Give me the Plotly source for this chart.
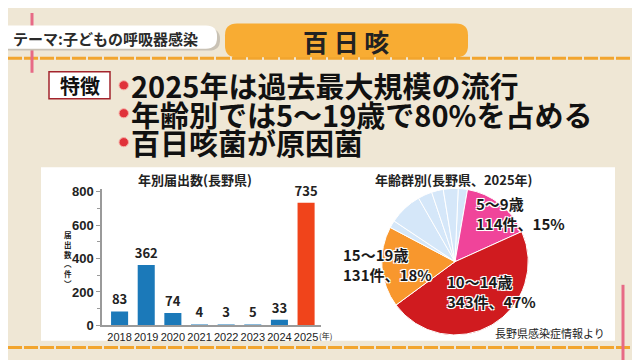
import plotly.graph_objects as go

# ---------------- data ----------------
years = ["2018", "2019", "2020", "2021", "2022", "2023", "2024", "2025"]
cases = [83, 362, 74, 4, 3, 5, 33, 735]
year_unit = "(年)"
bar_colors = ["#1b79b9"] * 7 + ["#f0441b"]

age_groups = ["0～4歳", "5～9歳", "10～14歳", "15～19歳", "20代", "30代", "40代", "50代", "60歳以上"]
age_cases = [15, 114, 343, 131, 12, 54, 23, 19, 24]
age_pcts = [2, 15, 47, 18, 2, 7, 3, 3, 3]
age_colors = ["#d5e7f9", "#f0449a", "#d01b1f", "#f8972d",
              "#d5e7f9", "#d5e7f9", "#d5e7f9", "#d5e7f9", "#d5e7f9"]

header_theme = "テーマ:子どもの呼吸器感染"
header_title = "百 日 咳"
feature_tag = "特徴"
bullets = ["2025年は過去最大規模の流行", "年齢別では5～19歳で80%を占める", "百日咳菌が原因菌"]
bar_title = "年別届出数(長野県)"
bar_ytitle = "届出数︵件︶"
pie_title = "年齢群別(長野県、2025年)"
source = "長野県感染症情報より"

W, H = 640, 360
FONT = "Noto Sans CJK JP"


def px(x):
    return x / W


def py(y):
    return 1 - y / H


def rrect(x0, y0, x1, y1, r):
    """rounded rectangle path in paper coords from pixel coords"""
    p = lambda x, y: f"{px(x):.5f},{py(y):.5f}"
    return (f"M {p(x0 + r, y0)} L {p(x1 - r, y0)} Q {p(x1, y0)} {p(x1, y0 + r)} "
            f"L {p(x1, y1 - r)} Q {p(x1, y1)} {p(x1 - r, y1)} L {p(x0 + r, y1)} "
            f"Q {p(x0, y1)} {p(x0, y1 - r)} L {p(x0, y0 + r)} Q {p(x0, y0)} {p(x0 + r, y0)} Z")


fig = go.Figure()

fig.add_trace(go.Bar(
    x=years, y=cases, marker_color=bar_colors, marker_line_width=0,
    text=[str(v) for v in cases], textposition="outside", cliponaxis=False,
    constraintext="none",
    textfont=dict(family=FONT, size=13, color="#222", weight="bold"),
    xaxis="x", yaxis="y", showlegend=False, hoverinfo="skip",
))

fig.add_trace(go.Pie(
    labels=age_groups, values=age_cases, sort=False, direction="clockwise",
    rotation=2.5, marker=dict(colors=age_colors, line=dict(color="white", width=1)),
    textinfo="none", showlegend=False, hoverinfo="skip",
    domain=dict(x=[px(371), px(523)], y=[py(334), py(182)]),
))

shapes = []
# white panel
shapes.append(dict(type="rect", xref="paper", yref="paper", x0=px(33), x1=px(607),
                   y0=py(340), y1=py(160), fillcolor="white", line_width=0, layer="below"))
# orange dashed lines
for yy in (47, 347):
    shapes.append(dict(type="line", xref="paper", yref="paper", x0=0, x1=1, y0=py(yy), y1=py(yy),
                       line=dict(color="#f2a52e", width=3, dash="14px,2px"), layer="below"))
# pink margin lines
shapes.append(dict(type="line", xref="paper", yref="paper", x0=px(24), x1=px(24), y0=py(0), y1=py(62),
                   line=dict(color="#e76a86", width=3), layer="below"))
shapes.append(dict(type="line", xref="paper", yref="paper", x0=px(615), x1=px(615), y0=py(282), y1=py(360),
                   line=dict(color="#e76a86", width=3), layer="below"))
# header boxes
shapes.append(dict(type="path", xref="paper", yref="paper", path=rrect(-10, 16, 212, 39, 11),
                   fillcolor="#c9c2b5", line_width=0, layer="below"))
shapes.append(dict(type="path", xref="paper", yref="paper", path=rrect(-10, 13, 209, 37, 11),
                   fillcolor="white", line_width=0, layer="below"))
shapes.append(dict(type="path", xref="paper", yref="paper", path=rrect(217, 11, 460, 46, 12),
                   fillcolor="#f8ac33", line_width=0, layer="below"))
# feature tag box
shapes.append(dict(type="rect", xref="paper", yref="paper", x0=px(41), x1=px(102), y0=py(89), y1=py(61),
                   fillcolor="white", line=dict(color="#a3242c", width=1.5), layer="below"))
# bullets
for i, yy in enumerate([75, 104, 134]):
    shapes.append(dict(type="circle", xref="paper", yref="paper", x0=px(111), x1=px(120.5),
                       y0=py(yy + 4.75), y1=py(yy - 4.75), fillcolor="#e0323a",
                       line=dict(color="#f7b0a8", width=1), layer="below"))

annotations = []
annotations.append(dict(xref="paper", yref="paper", x=px(3), y=py(26), xanchor="left", yanchor="middle",
                        text=f"<b>{header_theme}</b>", showarrow=False,
                        font=dict(family=FONT, size=15, color="#2a2a2a")))
annotations.append(dict(xref="paper", yref="paper", x=px(338), y=py(29), xanchor="center", yanchor="middle",
                        text=f"<b>{header_title}</b>", showarrow=False,
                        font=dict(family=FONT, size=25, color="#222")))
annotations.append(dict(xref="paper", yref="paper", x=px(71.5), y=py(75), xanchor="center", yanchor="middle",
                        text=f"<b>{feature_tag}</b>", showarrow=False,
                        font=dict(family=FONT, size=20, color="#111")))
for i, (t, yy) in enumerate(zip(bullets, [75, 104.5, 134])):
    annotations.append(dict(xref="paper", yref="paper", x=px(121), y=py(yy), xanchor="left", yanchor="middle",
                            text=f"<b>{t}</b>", showarrow=False,
                            font=dict(family=FONT, size=29, color="#111")))
# chart titles
annotations.append(dict(xref="paper", yref="paper", x=px(187), y=py(173), xanchor="center", yanchor="middle",
                        text=f"<b>{bar_title}</b>", showarrow=False,
                        font=dict(family=FONT, size=13, color="#222")))
annotations.append(dict(xref="paper", yref="paper", x=px(446), y=py(173), xanchor="center", yanchor="middle",
                        text=f"<b>{pie_title}</b>", showarrow=False,
                        font=dict(family=FONT, size=13, color="#222")))
# x unit after last year label
annotations.append(dict(xref="paper", yref="paper", x=px(310), y=py(335), xanchor="left", yanchor="middle",
                        text=year_unit, showarrow=False, borderpad=0,
                        font=dict(family=FONT, size=8, color="#222")))
# vertical y title (stacked characters)
annotations.append(dict(xref="paper", yref="paper", x=px(60), y=py(255), xanchor="center",
                        yanchor="middle", text="<br>".join(f"<b>{ch}</b>" for ch in bar_ytitle),
                        showarrow=False, borderpad=0,
                        font=dict(family=FONT, size=7.5, color="#222")))
# pie labels
outline = "-1px -1px 0 #fff, 1px -1px 0 #fff, -1px 1px 0 #fff, 1px 1px 0 #fff, 0 0 2px #fff"
pie_label_pos = {1: (466, 208), 2: (437, 289), 3: (333, 261)}
for idx, (lx, ly) in pie_label_pos.items():
    annotations.append(dict(xref="paper", yref="paper", x=px(lx), y=py(ly), xanchor="left", yanchor="middle",
                            align="left", showarrow=False,
                            text=f"<b>{age_groups[idx]}<br>{age_cases[idx]}件、{age_pcts[idx]}%</b>",
                            font=dict(family=FONT, size=15, color="#1a1a1a", shadow=outline)))
annotations.append(dict(xref="paper", yref="paper", x=px(599), y=py(332), xanchor="right", yanchor="middle",
                        text=source, showarrow=False, font=dict(family=FONT, size=11, color="#222")))

fig.update_layout(
    width=W, height=H, margin=dict(l=0, r=0, t=0, b=0),
    paper_bgcolor="#efe7d5", plot_bgcolor="rgba(0,0,0,0)",
    bargap=0.36, shapes=shapes, annotations=annotations,
    xaxis=dict(domain=[px(94), px(313)], range=[-0.66, 7.56], type="category",
               showgrid=False, ticks="", tickangle=0, ticklabelstandoff=1,
               showline=True, linecolor="#9a9a9a", linewidth=1.5,
               tickfont=dict(family="Liberation Sans", size=11, color="#222"), fixedrange=True),
    yaxis=dict(domain=[py(324), py(183)], range=[0, 815], tickvals=[0, 200, 400, 600, 800],
               showgrid=False, zeroline=False, showline=True, linecolor="#9a9a9a", linewidth=1.5,
               ticks="outside", ticklen=4, tickcolor="#9a9a9a",
               minor=dict(tickvals=[100, 300, 500, 700], ticks="outside", ticklen=3, tickcolor="#9a9a9a"),
               tickfont=dict(family="Liberation Sans", size=13, color="#222", weight="bold"), fixedrange=True),
)

fig.write_html("out.html")
